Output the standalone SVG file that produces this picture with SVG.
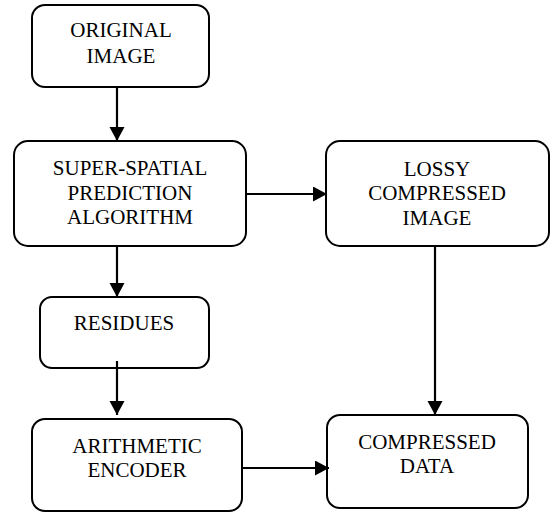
<svg xmlns="http://www.w3.org/2000/svg" width="552" height="513" viewBox="0 0 552 513">
<defs>
<style>
.box{fill:#fff;stroke:#000;stroke-width:2}
.c{stroke:#000;stroke-width:2.2;fill:none}
</style>
<marker id="ah" markerUnits="userSpaceOnUse" markerWidth="15" markerHeight="16" refX="14" refY="7.5" orient="auto">
<path d="M0,0 L14,7.5 L0,15 Z" fill="#000"/>
</marker>
</defs>
<rect width="552" height="513" fill="#fff"/>
<g font-family="Liberation Serif, Times New Roman, DejaVu Serif, serif" font-size="21" fill="#000" text-anchor="middle">
<g id="original">
<rect class="box" x="32" y="5" width="177" height="82" rx="13"/>
<text x="121" y="37">ORIGINAL</text>
<text x="121" y="63">IMAGE</text>
</g>
<g id="ssp">
<rect class="box" x="14" y="141" width="232" height="105" rx="14"/>
<text x="130" y="175">SUPER-SPATIAL</text>
<text x="130" y="200">PREDICTION</text>
<text x="130" y="224">ALGORITHM</text>
</g>
<g id="lossy">
<rect class="box" x="326" y="141" width="223" height="105" rx="14"/>
<text x="437" y="176">LOSSY</text>
<text x="437" y="200">COMPRESSED</text>
<text x="437" y="225">IMAGE</text>
</g>
<g id="residues">
<rect class="box" x="40" y="297" width="169" height="71" rx="12"/>
<text x="124" y="330">RESIDUES</text>
</g>
<g id="arith">
<rect class="box" x="32" y="419" width="210" height="92" rx="13"/>
<text x="137" y="453">ARITHMETIC</text>
<text x="137" y="477">ENCODER</text>
</g>
<g id="compressed">
<rect class="box" x="327" y="415" width="201" height="93" rx="13"/>
<text x="427" y="449">COMPRESSED</text>
<text x="427" y="473">DATA</text>
</g>
</g>
<g id="connectors">
<line class="c" x1="117" y1="87" x2="117" y2="141" marker-end="url(#ah)"/>
<line class="c" x1="246" y1="194" x2="327" y2="194" marker-end="url(#ah)"/>
<line class="c" x1="117" y1="246" x2="117" y2="297" marker-end="url(#ah)"/>
<line class="c" x1="435" y1="246" x2="435" y2="415" marker-end="url(#ah)"/>
<line class="c" x1="117" y1="361" x2="117" y2="415" marker-end="url(#ah)"/>
<line class="c" x1="242" y1="468" x2="329" y2="468" marker-end="url(#ah)"/>
</g>
</svg>
